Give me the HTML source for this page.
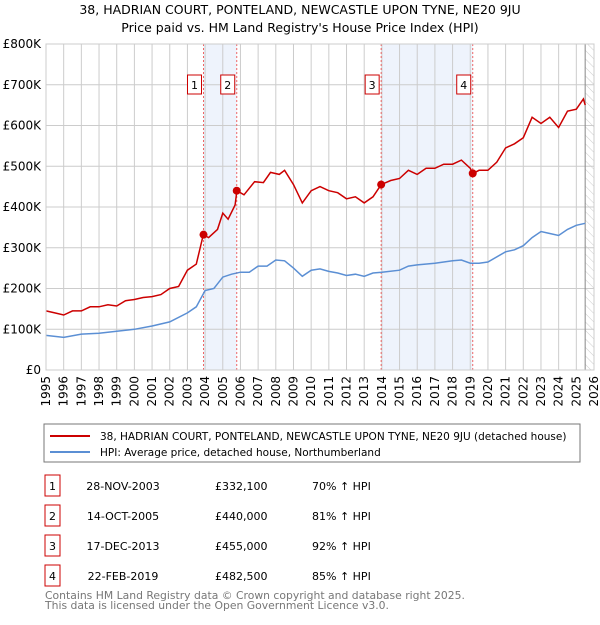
<!DOCTYPE html>
<html><head><meta charset="utf-8"><style>
body{margin:0;background:#fff;font-family:"Liberation Sans","DejaVu Sans",sans-serif;}
svg text{font-family:"DejaVu Sans","Liberation Sans",sans-serif;}
</style></head><body>
<svg id="chart" width="600" height="620" viewBox="0 0 600 620">
<defs><pattern id="hatch" width="6" height="6" patternUnits="userSpaceOnUse" patternTransform="rotate(-45)"><line x1="0" y1="0" x2="0" y2="6" stroke="#ccc" stroke-width="1"/></pattern></defs>
<text x="300" y="14" text-anchor="middle" font-size="12.5">38, HADRIAN COURT, PONTELAND, NEWCASTLE UPON TYNE, NE20 9JU</text>
<text x="300" y="32" text-anchor="middle" font-size="12.5">Price paid vs. HM Land Registry's House Price Index (HPI)</text>
<g id="grid"></g><g id="marks"></g><g id="axes"></g>
<rect x="44" y="424" width="536" height="38" fill="none" stroke="#777"/>
<line x1="50" y1="436" x2="90" y2="436" stroke="#cc0000" stroke-width="2"/>
<text x="100" y="440" font-size="10.5">38, HADRIAN COURT, PONTELAND, NEWCASTLE UPON TYNE, NE20 9JU (detached house)</text>
<line x1="50" y1="452" x2="90" y2="452" stroke="#5b8fd4" stroke-width="2"/>
<text x="100" y="456" font-size="10.5">HPI: Average price, detached house, Northumberland</text>
<g id="table" font-size="11"></g>
<text x="45" y="599" font-size="10.8" fill="#777">Contains HM Land Registry data © Crown copyright and database right 2025.</text>
<text x="45" y="609" font-size="10.8" fill="#777">This data is licensed under the Open Government Licence v3.0.</text>
</svg>
<script>
const yTicks=[0,100,200,300,400,500,600,700,800];
const yTickLabels=["£0","£100K","£200K","£300K","£400K","£500K","£600K","£700K","£800K"];
const years=[1995,1996,1997,1998,1999,2000,2001,2002,2003,2004,2005,2006,2007,2008,2009,2010,2011,2012,2013,2014,2015,2016,2017,2018,2019,2020,2021,2022,2023,2024,2025,2026];
const priceT=[1995,1995.5,1996,1996.5,1997,1997.5,1998,1998.5,1999,1999.5,2000,2000.5,2001,2001.5,2002,2002.5,2003,2003.5,2003.9,2004.2,2004.7,2005,2005.3,2005.7,2005.8,2006.2,2006.8,2007.3,2007.7,2008.2,2008.5,2009,2009.5,2010,2010.5,2011,2011.5,2012,2012.5,2013,2013.5,2013.96,2014.5,2015,2015.5,2016,2016.5,2017,2017.5,2018,2018.5,2019,2019.14,2019.5,2020,2020.5,2021,2021.5,2022,2022.5,2023,2023.5,2024,2024.5,2025,2025.4,2025.5];
const priceV=[145,140,135,145,145,155,155,160,157,170,173,178,180,185,200,205,245,260,332,325,345,385,370,405,440,430,462,460,485,480,490,455,410,440,450,440,435,420,425,410,425,455,465,470,490,480,495,495,505,505,515,495,482,490,490,510,545,555,570,620,605,620,595,635,640,665,650];
const hpiT=[1995,1996,1997,1998,1999,2000,2001,2002,2003,2003.5,2004,2004.5,2005,2005.5,2006,2006.5,2007,2007.5,2008,2008.5,2009,2009.5,2010,2010.5,2011,2011.5,2012,2012.5,2013,2013.5,2014,2015,2015.5,2016,2017,2018,2018.5,2019,2019.5,2020,2021,2021.5,2022,2022.5,2023,2023.5,2024,2024.5,2025,2025.5];
const hpiV=[85,80,88,90,95,100,108,118,140,155,195,200,228,235,240,240,255,255,270,268,250,230,245,248,242,238,232,235,230,238,240,245,255,258,262,268,270,262,262,265,290,295,305,325,340,335,330,345,355,360];
const saleT=[2003.91,2005.79,2013.96,2019.14];
const saleV=[332.1,440,455,482.5];
const saleLabels=["1","2","3","4"];
const saleDates=["28-NOV-2003","14-OCT-2005","17-DEC-2013","22-FEB-2019"];
const salePrices=["£332,100","£440,000","£455,000","£482,500"];
const saleHpi=["70% ↑ HPI","81% ↑ HPI","92% ↑ HPI","85% ↑ HPI"];
const X0=46,X1=594,Y0=370,Y1=44;
const xs=t=>X0+(t-1995)/31*(X1-X0);
const ys=v=>Y0-v/800*(Y0-Y1);
const NS="http://www.w3.org/2000/svg";
function mk(tag,attrs,parent,text){const e=document.createElementNS(NS,tag);for(const k in attrs)e.setAttribute(k,attrs[k]);if(text!==undefined)e.textContent=text;parent.appendChild(e);return e;}
const grid=document.getElementById('grid'),marks=document.getElementById('marks'),axes=document.getElementById('axes'),table=document.getElementById('table');
for(const [a,b] of [[0,1],[2,3]]){const r=mk('rect',{x:xs(saleT[a]),y:Y1,width:xs(saleT[b])-xs(saleT[a]),height:Y0-Y1,fill:'#eef3fc'},grid);

}
const hr=mk('rect',{x:xs(2025.5),y:Y1,width:X1-xs(2025.5),height:Y0-Y1,fill:'url(#hatch)'},grid);


yTicks.forEach((v,i)=>{mk('line',{x1:X0,x2:X1,y1:ys(v),y2:ys(v),stroke:'#ccc'},grid);
const t=mk('text',{x:X0-5,y:ys(v)+4,'text-anchor':'end','font-size':12},axes,yTickLabels[i]);

});
years.forEach(y=>{mk('line',{x1:xs(y),x2:xs(y),y1:Y1,y2:Y0,stroke:'#ccc'},grid);
const t=mk('text',{x:0,y:0,'text-anchor':'end','font-size':12,transform:`translate(${xs(y)+4},${Y0+6}) rotate(-90)`},axes,String(y));

});
mk('line',{x1:xs(2025.5),x2:xs(2025.5),y1:Y1,y2:Y0,stroke:'#888'},grid);
saleT.forEach((t,i)=>{mk('line',{x1:xs(t),x2:xs(t),y1:Y1,y2:Y0,stroke:'#e66','stroke-dasharray':'2,2'},grid);
const g=mk('g',{},marks);


mk('rect',{x:xs(t)-16,y:75,width:14,height:19,fill:'#fff',stroke:'#cc0000'},g);
mk('text',{x:xs(t)-9,y:89,'text-anchor':'middle','font-size':11},g,saleLabels[i]);});
function path(T,V,color,name){const d=T.map((t,i)=>(i?'L':'M')+xs(t).toFixed(1)+','+ys(V[i]).toFixed(1)).join('');
const p=mk('path',{d:d,fill:'none',stroke:color,'stroke-width':1.5},marks);

}
path(hpiT,hpiV,'#5b8fd4','hpi-line');
path(priceT,priceV,'#cc0000','price-line');
saleT.forEach((t,i)=>{const c=mk('circle',{cx:xs(t),cy:ys(saleV[i]),r:4,fill:'#cc0000'},marks);

});
mk('rect',{x:X0,y:Y1,width:X1-X0,height:Y0-Y1,fill:'none',stroke:'#ccc'},axes);
saleT.forEach((t,i)=>{const y=486+i*30;const g=mk('g',{},table);


mk('rect',{x:45,y:y-11,width:15,height:21,fill:'#fff',stroke:'#cc0000'},g);
mk('text',{x:52.5,y:y+4,'text-anchor':'middle'},g,saleLabels[i]);
mk('text',{x:123,y:y+4,'text-anchor':'middle'},g,saleDates[i]);
mk('text',{x:215,y:y+4},g,salePrices[i]);
mk('text',{x:312,y:y+4},g,saleHpi[i]);});
</script>
</body></html>
